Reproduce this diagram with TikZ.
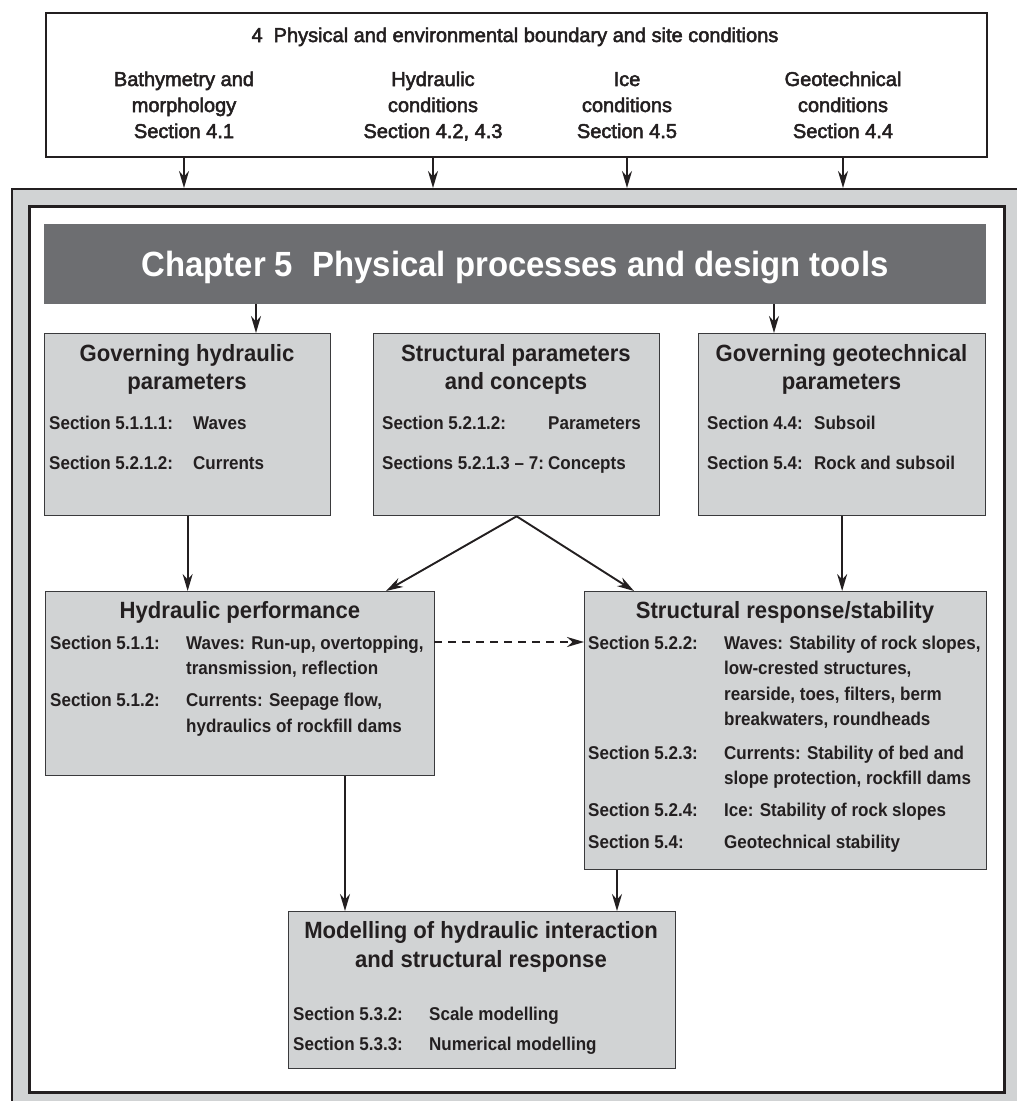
\documentclass[tikz,border=0pt]{standalone}
\usepackage{fontspec}
\setmainfont{Liberation Sans}
\newfontfamily\topfont{Liberation Sans}[FakeBold=2.5]
\newfontfamily\bodyfont{Liberation Sans}[FakeStretch=0.92]
\newfontfamily\titlefont{Liberation Sans}[FakeStretch=0.94]
\newfontfamily\bannerfont{Liberation Sans}[FakeStretch=0.94]
\usetikzlibrary{arrows.meta,calc}
\definecolor{boxgray}{HTML}{D1D3D4}
\definecolor{bannergray}{HTML}{6D6E71}
\definecolor{ink}{HTML}{231F20}
\definecolor{edge}{HTML}{3A3A3C}
\begin{document}
\begin{tikzpicture}[x=1pt,y=-1pt,
  arr/.style={draw=ink, line width=1.9pt, -{Stealth[length=17pt,width=10pt]}},
  box/.style={draw=edge, line width=1.3pt, fill=boxgray, anchor=north west, inner sep=0pt},
  ttl/.style={anchor=base, font=\fontsize{23.5}{26}\titlefont\bfseries, text=ink, inner sep=0pt},
  lbl/.style={anchor=base west, font=\fontsize{18.5}{21}\bodyfont\bfseries, text=ink, inner sep=0pt},
  toptxt/.style={anchor=base, font=\fontsize{20}{24}\topfont, text=ink, inner sep=0pt},
]
\useasboundingbox (0,0) rectangle (1017,1101);
\fill[white] (0,0) rectangle (1017,1101);

% outer frames
\node[draw=ink, line width=2pt, fill=boxgray, anchor=north west, inner sep=0pt,
      minimum width=1030pt, minimum height=930pt] (outer) at (11,188) {};
\node[draw=ink, line width=3pt, fill=white, anchor=north west, inner sep=0pt,
      minimum width=975pt, minimum height=886pt] (inner) at (28,205) {};
\node[fill=bannergray, anchor=north west, inner sep=0pt,
      minimum width=942pt, minimum height=80pt] (ch5) at (44,224) {};
\node[anchor=base, inner sep=0pt, text=white, font=\fontsize{35}{38}\bannerfont\bfseries] (ch5t) at (515,276)
  {Chapter 5\hspace{0.55em}Physical processes and design tools};

% top box
\node[draw=ink, line width=1.8pt, fill=white, anchor=north west, inner sep=0pt,
      minimum width=941pt, minimum height=144pt] (top) at (45,12) {};
\node[toptxt] (toptitle) at (515,42) {4\hspace{0.55em}Physical and environmental boundary and site conditions};
\node[toptxt] (colA1) at (184,86) {Bathymetry and};
\node[toptxt] (colA2) at (184,112) {morphology};
\node[toptxt] (colA3) at (184,138) {Section 4.1};
\node[toptxt] (colB1) at (433,86) {Hydraulic};
\node[toptxt] (colB2) at (433,112) {conditions};
\node[toptxt] (colB3) at (433,138) {Section 4.2, 4.3};
\node[toptxt] (colC1) at (627,86) {Ice};
\node[toptxt] (colC2) at (627,112) {conditions};
\node[toptxt] (colC3) at (627,138) {Section 4.5};
\node[toptxt] (colD1) at (843,86) {Geotechnical};
\node[toptxt] (colD2) at (843,112) {conditions};
\node[toptxt] (colD3) at (843,138) {Section 4.4};
\foreach \c in {colA1,colB1,colC1,colD1}
  \draw[arr] (\c |- top.south) -- (\c |- outer.north);

% row 1 boxes
\node[box, minimum width=286pt, minimum height=182pt] (gh) at (44,333) {};
\node[box, minimum width=286pt, minimum height=182pt] (sp) at (373,333) {};
\node[box, minimum width=287pt, minimum height=182pt] (gg) at (698,333) {};

\node[ttl] (ghT1) at (187,361) {Governing hydraulic};
\node[ttl] (ghT2) at (187,389) {parameters};
\node[lbl] (ghL1) at (49,429) {Section 5.1.1.1:};
\node[lbl] (ghD1) at (193,429) {Waves};
\node[lbl] (ghL2) at (49,469) {Section 5.2.1.2:};
\node[lbl] (ghD2) at (193,469) {Currents};

\node[ttl] (spT1) at (516,361) {Structural parameters};
\node[ttl] (spT2) at (516,389) {and concepts};
\node[lbl] (spL1) at (382,429) {Section 5.2.1.2:};
\node[lbl] (spD1) at (548,429) {Parameters};
\node[lbl] (spL2) at (382,469) {Sections 5.2.1.3 – 7:};
\node[lbl] (spD2) at (548,469) {Concepts};

\node[ttl] (ggT1) at (841.5,361) {Governing geotechnical};
\node[ttl] (ggT2) at (841.5,389) {parameters};
\node[lbl] (ggL1) at (707,429) {Section 4.4:};
\node[lbl] (ggD1) at (814,429) {Subsoil};
\node[lbl] (ggL2) at (707,469) {Section 5.4:};
\node[lbl] (ggD2) at (814,469) {Rock and subsoil};

\coordinate (a1) at (256,333);
\coordinate (a2) at (774,333);
\draw[arr] (a1 |- ch5.south) -- (a1);
\draw[arr] (a2 |- ch5.south) -- (a2);

% row 2 boxes
\node[box, minimum width=389pt, minimum height=184pt] (hp) at (45,591) {};
\node[box, minimum width=402pt, minimum height=278pt] (sr) at (584,591) {};

\node[ttl] (hpT) at (240,618) {Hydraulic performance};
\node[lbl] (hpL1) at (50,649) {Section 5.1.1:};
\node[lbl] (hpD1) at (186,649) {Waves: Run-up, overtopping,};
\node[lbl] (hpD1b) at (186,674) {transmission, reflection};
\node[lbl] (hpL2) at (50,706) {Section 5.1.2:};
\node[lbl] (hpD2) at (186,706) {Currents: Seepage flow,};
\node[lbl] (hpD2b) at (186,732) {hydraulics of rockfill dams};

\node[ttl] (srT) at (785,618) {Structural response/stability};
\node[lbl] (srL1) at (588,649) {Section 5.2.2:};
\node[lbl] (srD1) at (724,649) {Waves: Stability of rock slopes,};
\node[lbl] (srD1b) at (724,674) {low-crested structures,};
\node[lbl] (srD1c) at (724,700) {rearside, toes, filters, berm};
\node[lbl] (srD1d) at (724,725) {breakwaters, roundheads};
\node[lbl] (srL2) at (588,759) {Section 5.2.3:};
\node[lbl] (srD2) at (724,759) {Currents: Stability of bed and};
\node[lbl] (srD2b) at (724,784) {slope protection, rockfill dams};
\node[lbl] (srL3) at (588,816) {Section 5.2.4:};
\node[lbl] (srD3) at (724,816) {Ice: Stability of rock slopes};
\node[lbl] (srL4) at (588,848) {Section 5.4:};
\node[lbl] (srD4) at (724,848) {Geotechnical stability};

\coordinate (hpin) at (386,591);
\coordinate (srin) at (634,591);
\draw[arr] (gh.south) -- (gh.south |- hp.north);
\draw[arr] (gg.south) -- (gg.south |- sr.north);
\draw[arr] (sp.south) -- (hpin);
\draw[arr] (sp.south) -- (srin);
\coordinate (d1) at (434,642);
\draw[arr, line width=2.2pt, dash pattern=on 8pt off 6pt] (d1) -- (d1 -| sr.west);

% modelling box
\node[box, minimum width=387pt, minimum height=157pt] (mo) at (288,911) {};
\node[ttl] (moT1) at (481,938) {Modelling of hydraulic interaction};
\node[ttl] (moT2) at (481,967) {and structural response};
\node[lbl] (moL1) at (293,1020) {Section 5.3.2:};
\node[lbl] (moD1) at (429,1020) {Scale modelling};
\node[lbl] (moL2) at (293,1050) {Section 5.3.3:};
\node[lbl] (moD2) at (429,1050) {Numerical modelling};

\coordinate (m1) at (345,911);
\coordinate (m2) at (617,911);
\draw[arr] (m1 |- hp.south) -- (m1);
\draw[arr] (m2 |- sr.south) -- (m2);
\end{tikzpicture}
\end{document}
